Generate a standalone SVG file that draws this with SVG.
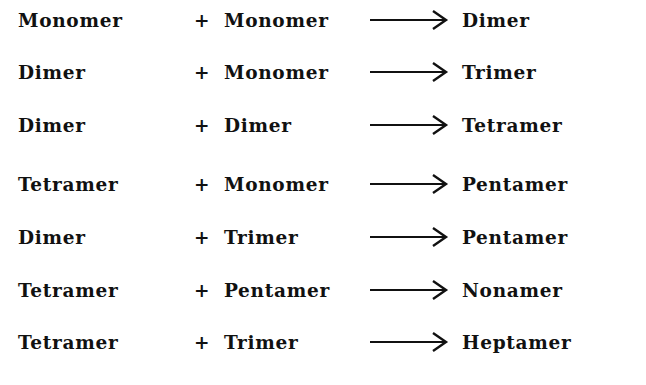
<svg xmlns="http://www.w3.org/2000/svg" width="646" height="385" viewBox="0 0 646 385">
<style>
text{font-family:"DejaVu Serif","Liberation Serif",serif;font-size:18.5px;font-weight:bold;letter-spacing:0.7px;fill:#111}
.ln{stroke:#111;stroke-width:2;fill:none}
.hd{stroke:#111;stroke-width:2.4;fill:none;stroke-linejoin:miter}
</style>
<defs>
<g id="arr"><line class="ln" x1="0" y1="0" x2="75" y2="0"/><polyline class="hd" points="63,-9 76,0 63,9"/></g>
</defs>
<rect width="646" height="385" fill="#fff"/>
<g id="connectors">
<use href="#arr" x="370" y="20"/>
<use href="#arr" x="370" y="72"/>
<use href="#arr" x="370" y="125"/>
<use href="#arr" x="370" y="184"/>
<use href="#arr" x="370" y="237"/>
<use href="#arr" x="370" y="290"/>
<use href="#arr" x="370" y="342"/>
</g>
<g id="r1"><text x="18" y="27">Monomer</text><text x="194" y="27">+</text><text x="224" y="27">Monomer</text><text x="462" y="27">Dimer</text></g>
<g id="r2"><text x="18" y="79">Dimer</text><text x="194" y="79">+</text><text x="224" y="79">Monomer</text><text x="462" y="79">Trimer</text></g>
<g id="r3"><text x="18" y="132">Dimer</text><text x="194" y="132">+</text><text x="224" y="132">Dimer</text><text x="462" y="132">Tetramer</text></g>
<g id="r4"><text x="18" y="191">Tetramer</text><text x="194" y="191">+</text><text x="224" y="191">Monomer</text><text x="462" y="191">Pentamer</text></g>
<g id="r5"><text x="18" y="244">Dimer</text><text x="194" y="244">+</text><text x="224" y="244">Trimer</text><text x="462" y="244">Pentamer</text></g>
<g id="r6"><text x="18" y="297">Tetramer</text><text x="194" y="297">+</text><text x="224" y="297">Pentamer</text><text x="462" y="297">Nonamer</text></g>
<g id="r7"><text x="18" y="349">Tetramer</text><text x="194" y="349">+</text><text x="224" y="349">Trimer</text><text x="462" y="349">Heptamer</text></g>
</svg>
